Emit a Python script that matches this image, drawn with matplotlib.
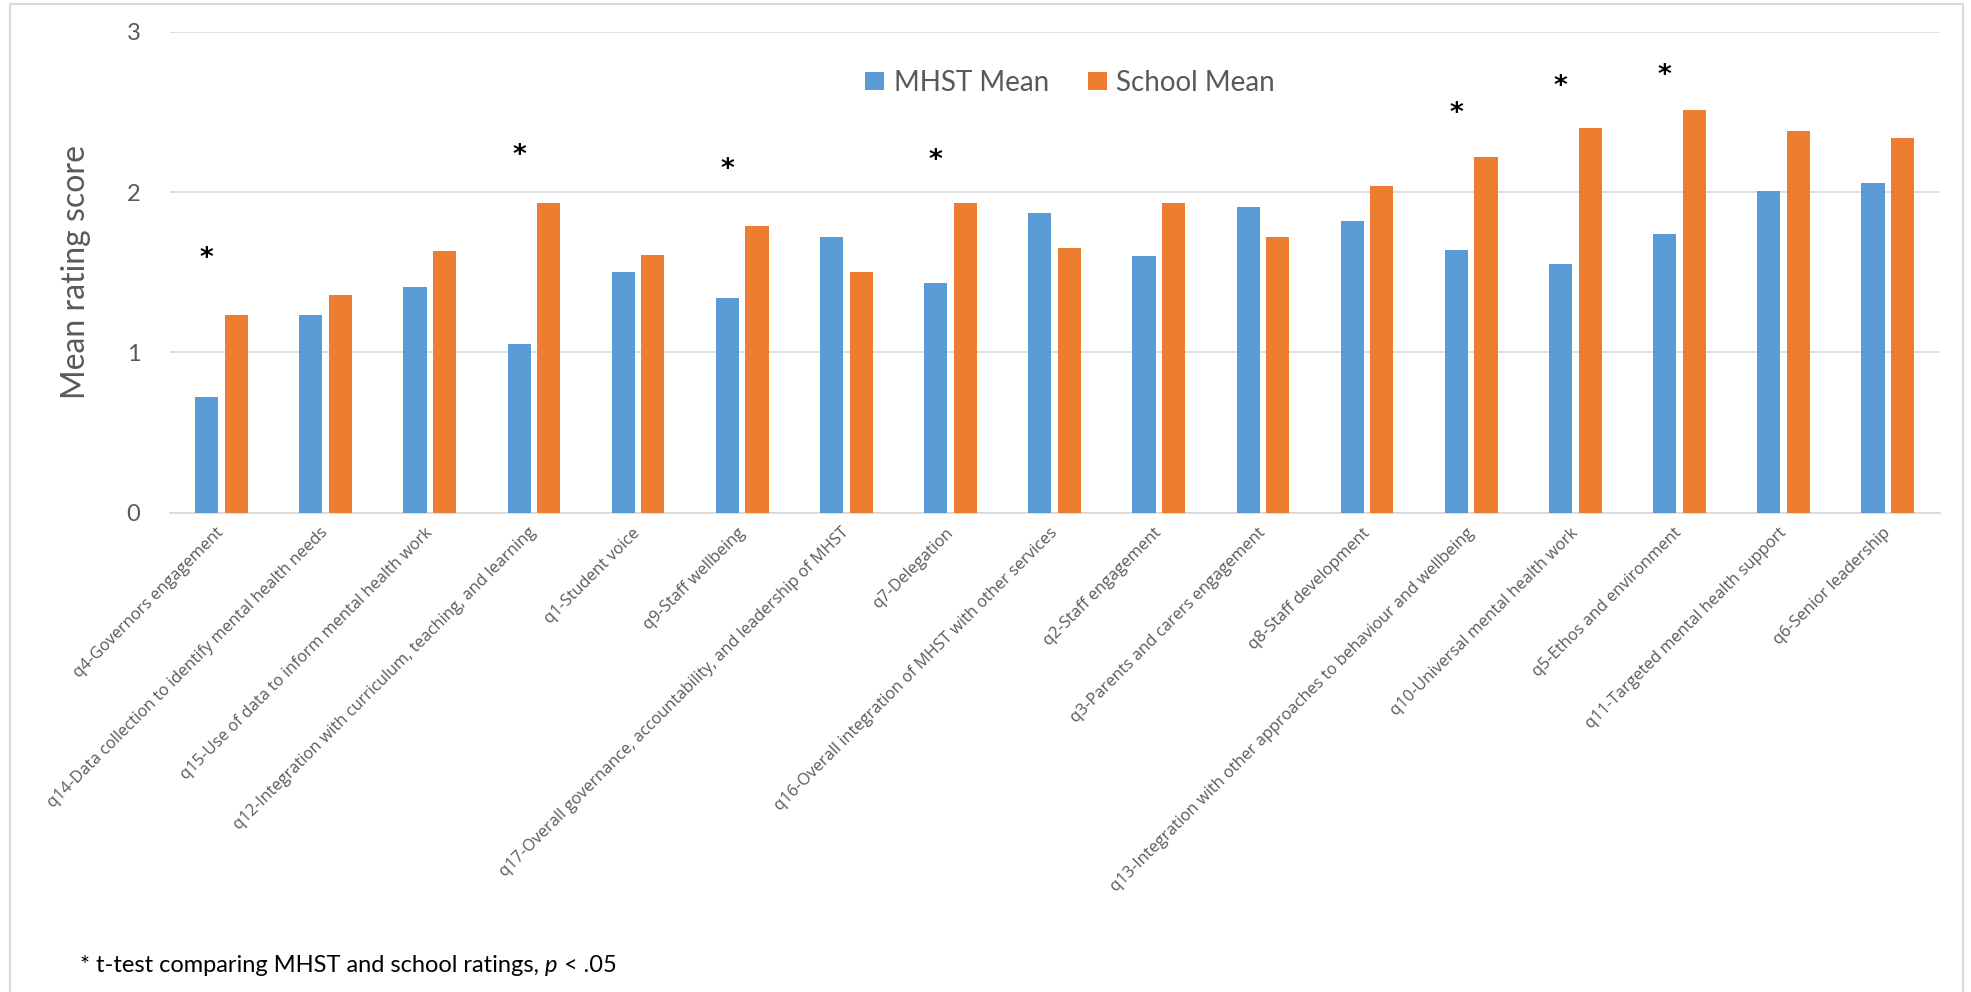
import matplotlib
matplotlib.use("Agg")
import matplotlib.pyplot as plt
from matplotlib.patches import Rectangle, Patch
import numpy as np

categories = [
    "q4-Governors engagement",
    "q14-Data collection to identify mental health needs",
    "q15-Use of data to inform mental health work",
    "q12-Integration with curriculum, teaching, and learning",
    "q1-Student voice",
    "q9-Staff wellbeing",
    "q17-Overall governance, accountability, and leadership of MHST",
    "q7-Delegation",
    "q16-Overall integration of MHST with other services",
    "q2-Staff engagement",
    "q3-Parents and carers engagement",
    "q8-Staff development",
    "q13-Integration with other approaches to behaviour and wellbeing",
    "q10-Universal mental health work",
    "q5-Ethos and environment",
    "q11-Targeted mental health support",
    "q6-Senior leadership",
]
mhst_mean = [0.72, 1.23, 1.41, 1.05, 1.50, 1.34, 1.72, 1.43, 1.87, 1.60, 1.91, 1.82, 1.64, 1.55, 1.74, 2.01, 2.06]
school_mean = [1.23, 1.36, 1.63, 1.93, 1.61, 1.79, 1.50, 1.93, 1.65, 1.93, 1.72, 2.04, 2.22, 2.40, 2.51, 2.38, 2.34]
# significance markers: category index and the height at which the * is drawn
sig_index = [0, 3, 5, 7, 12, 13, 14]
sig_height = [1.62, 2.26, 2.17, 2.23, 2.52, 2.69, 2.76]
series_names = ["MHST Mean", "School Mean"]
yticks = [0, 1, 2, 3]
footnote = "* t-test comparing MHST and school ratings, "

BLUE = "#5B9BD5"
ORANGE = "#ED7D31"
GRID = "#D9D9D9"
TXT = "#595959"

W, H, DPI = 1971, 992, 100
fig = plt.figure(figsize=(W / DPI, H / DPI), dpi=DPI)
fig.patch.set_facecolor("white")

left_px, right_px, top_px, bot_px = 169.5, 1940, 32, 512.5
ax = fig.add_axes([left_px / W, 1 - bot_px / H, (right_px - left_px) / W, (bot_px - top_px) / H])

x = np.arange(len(categories))
bw = 0.222
ax.bar(x - 0.143, mhst_mean, width=bw, color=BLUE, zorder=3)
ax.bar(x + 0.141, school_mean, width=bw, color=ORANGE, zorder=3)

ax.set_xlim(-0.5, len(categories) - 0.5)
ax.set_ylim(0, 3)
ax.set_yticks(yticks)
ax.set_yticklabels([str(t) for t in yticks], fontsize=17, color=TXT, family="Lato")
ax.yaxis.grid(True, color=GRID, linewidth=1.2, zorder=0)
ax.set_axisbelow(True)
for s in ["top", "right", "left"]:
    ax.spines[s].set_visible(False)
ax.spines["bottom"].set_color(GRID)
ax.spines["bottom"].set_linewidth(1.2)
ax.tick_params(axis="y", length=0, pad=21)
ax.tick_params(axis="x", length=0, pad=13)

ax.set_xticks(x)
ax.set_xticklabels(categories, rotation=45, ha="right", va="center",
                   rotation_mode="anchor", fontsize=11.8, color=TXT, family="Open Sans")

ax.set_ylabel("Mean rating score", fontsize=23, color=TXT, family="Lato")
ax.yaxis.set_label_coords((91 - left_px) / (right_px - left_px),
                          (bot_px - 272) / (bot_px - top_px))

for i, h in zip(sig_index, sig_height):
    ax.annotate("*", xy=(i - 0.143, h), xytext=(0, -9), textcoords="offset points",
                ha="center", va="baseline", fontsize=19, color="black", family="DejaVu Sans",
                fontweight="bold")

handles = [Patch(facecolor=BLUE), Patch(facecolor=ORANGE)]
leg = fig.legend(handles, series_names, loc="center", bbox_to_anchor=(1070 / W, 1 - 83 / H),
                 ncol=2, frameon=False, handlelength=0.68, handleheight=0.62,
                 handletextpad=0.35, columnspacing=1.4, prop={"family": "Lato", "size": 20})
for t in leg.get_texts():
    t.set_color(TXT)

t1 = fig.text(80 / W, 1 - 965 / H, footnote, fontsize=17, color="black", family="Lato",
              ha="left", va="center")
fig.canvas.draw()
bb = t1.get_window_extent()
t2 = fig.text(bb.x1 / W, 1 - 965 / H, "p", fontsize=17, color="black", family="Lato",
              style="italic", ha="left", va="center")
fig.canvas.draw()
bb2 = t2.get_window_extent()
fig.text(bb2.x1 / W, 1 - 965 / H, " < .05", fontsize=17, color="black", family="Lato",
         ha="left", va="center")

fig.add_artist(Rectangle((10 / W, -0.02), (1963 - 10) / W, (H - 4) / H + 0.02,
                         transform=fig.transFigure, fill=False, edgecolor=GRID, linewidth=1.5))

fig.savefig("out.png", dpi=DPI, facecolor="white")
